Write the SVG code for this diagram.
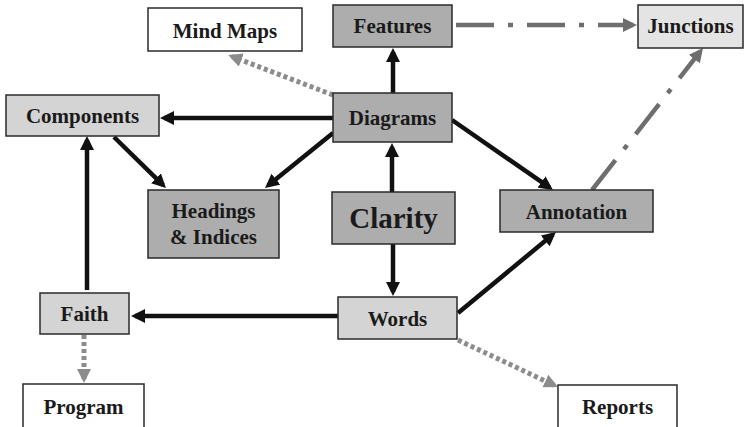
<svg xmlns="http://www.w3.org/2000/svg" width="748" height="427" viewBox="0 0 748 427">
<defs>
<style>
.box{stroke:#2a2a2a;stroke-width:1.5}
.dark{fill:#adadad}
.light{fill:#d4d4d4}
.pale{fill:#e4e4e4}
.white{fill:#ffffff}
text{font-family:"Liberation Serif","Times New Roman",serif;font-weight:bold;font-size:21px;fill:#1a1a1a;text-anchor:middle}
.big{font-size:29px}
.solid{stroke:#111;stroke-width:4.5;fill:none;marker-end:url(#ab)}
.dot{stroke:#8c8c8c;stroke-width:5;stroke-dasharray:4 3;fill:none;marker-end:url(#ag)}
.dd{stroke:#6e6e6e;stroke-width:4.5;stroke-dasharray:38 14 5 14;fill:none;marker-end:url(#ad)}
</style>
<marker id="ab" markerUnits="userSpaceOnUse" markerWidth="15" markerHeight="14" refX="10" refY="7" orient="auto"><path d="M0,0 L14,7 L0,14 z" fill="#111"/></marker>
<marker id="ag" markerUnits="userSpaceOnUse" markerWidth="15" markerHeight="14" refX="10" refY="7" orient="auto"><path d="M0,0 L14,7 L0,14 z" fill="#8c8c8c"/></marker>
<marker id="ad" markerUnits="userSpaceOnUse" markerWidth="15" markerHeight="14" refX="10" refY="7" orient="auto"><path d="M0,0 L14,7 L0,14 z" fill="#6e6e6e"/></marker>
</defs>
<rect width="748" height="427" fill="#ffffff"/>
<g id="connectors">
<line class="solid" x1="393" y1="93" x2="393" y2="52"/>
<line class="solid" x1="392" y1="192" x2="392" y2="147"/>
<line class="solid" x1="393" y1="244" x2="393" y2="292"/>
<line class="solid" x1="333" y1="118" x2="164" y2="118"/>
<line class="solid" x1="333" y1="133" x2="268.1" y2="185.5"/>
<line class="solid" x1="114" y1="137" x2="163.1" y2="185.2"/>
<line class="solid" x1="452" y1="120" x2="549.7" y2="187.7"/>
<line class="solid" x1="458" y1="313" x2="552.9" y2="234.5"/>
<line class="solid" x1="338" y1="316" x2="135" y2="316"/>
<line class="solid" x1="87" y1="290" x2="87" y2="140"/>
<line class="dot" x1="333" y1="95" x2="232" y2="56.5"/>
<line class="dot" x1="84" y1="335" x2="84" y2="379"/>
<line class="dot" x1="458" y1="340" x2="554.4" y2="385.3"/>
<line class="dd" x1="456" y1="25" x2="633" y2="25"/>
<line class="dd" x1="592" y1="190" x2="700.5" y2="51.2"/>
</g>
<g id="mindmaps"><rect class="box white" x="148" y="8" width="154" height="43"/><text x="225" y="37.5">Mind Maps</text></g>
<g id="features"><rect class="box dark" x="333" y="5" width="119" height="42"/><text x="392.5" y="33">Features</text></g>
<g id="junctions"><rect class="box pale" x="638" y="5" width="105" height="43"/><text x="690.5" y="33">Junctions</text></g>
<g id="components"><rect class="box light" x="6" y="95" width="153" height="41"/><text x="82.5" y="122.5">Components</text></g>
<g id="diagrams"><rect class="box dark" x="333" y="93" width="119" height="49"/><text x="392.5" y="124.5">Diagrams</text></g>
<g id="headings"><rect class="box dark" x="148" y="190" width="131" height="68"/><text x="213.5" y="217.5">Headings</text><text x="213.5" y="243.5">&amp; Indices</text></g>
<g id="clarity"><rect class="box dark" x="332" y="192" width="123" height="52"/><text class="big" x="393.5" y="228">Clarity</text></g>
<g id="annotation"><rect class="box dark" x="500" y="190" width="153" height="42"/><text x="576.5" y="218.5">Annotation</text></g>
<g id="faith"><rect class="box light" x="40" y="293" width="89" height="41"/><text x="84.5" y="320.5">Faith</text></g>
<g id="words"><rect class="box light" x="338" y="297" width="119" height="42"/><text x="397.5" y="325.5">Words</text></g>
<g id="program"><rect class="box white" x="23" y="384" width="121" height="45"/><text x="83.5" y="414">Program</text></g>
<g id="reports"><rect class="box white" x="558" y="385" width="119" height="44"/><text x="617.5" y="414">Reports</text></g>
</svg>
